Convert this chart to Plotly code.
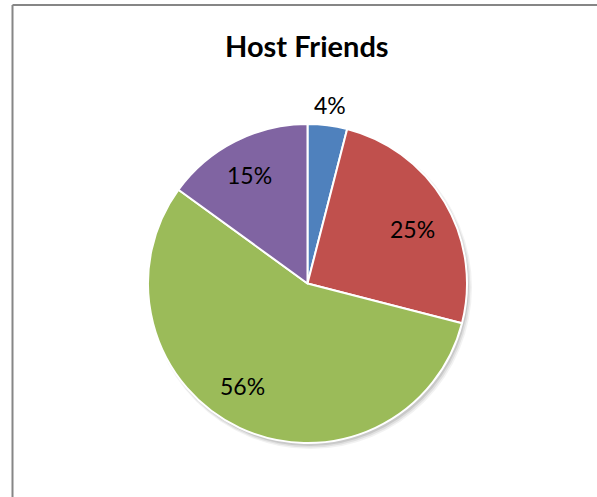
import math
import plotly.graph_objects as go

# Share of host friends by group
groups = ["Group A", "Group B", "Group C", "Group D"]
shares = [4, 25, 56, 15]
colors = ["#4F81BD", "#C0504D", "#9BBB59", "#8064A2"]
title_text = "Host Friends"

# Label placement: radius as a fraction of the pie radius, plus a small angle nudge (deg)
label_radius = [1.13, 0.74, 0.76, 0.77]
label_nudge = [0, 3, 7, -1]

W, H = 597, 497
# Pie geometry in pixels
cx, cy, R = 307.5, 283.5, 159.5


def px_x(x):
    return x / W


def px_y(y):
    return 1 - y / H


def domain(dx=0.0, dy=0.0, dr=0.0):
    r = R + dr
    return dict(
        x=[px_x(cx + dx - r), px_x(cx + dx + r)],
        y=[px_y(cy + dy + r), px_y(cy + dy - r)],
    )


fig = go.Figure()

# Soft drop shadow behind the pie
for dx, dy, dr, a in [(3, 4, 2, 0.05), (2.5, 3.5, 1, 0.07), (2, 3, 0, 0.10)]:
    fig.add_trace(go.Pie(
        values=[1], domain=domain(dx, dy, dr), sort=False,
        marker=dict(colors=[f"rgba(0,0,0,{a})"], line=dict(width=0)),
        textinfo="none", hoverinfo="skip", showlegend=False,
    ))

fig.add_trace(go.Pie(
    labels=groups, values=shares, domain=domain(), sort=False,
    direction="clockwise", rotation=0,
    marker=dict(colors=colors, line=dict(color="white", width=2)),
    textinfo="none", showlegend=False,
))

# Percentage labels placed at each slice's mid-angle
total = sum(shares)
cum = 0
annotations = []
for v, rf, nudge in zip(shares, label_radius, label_nudge):
    mid = (cum + v / 2) / total * 360 + nudge
    cum += v
    rad = math.radians(mid)
    lx = cx + rf * R * math.sin(rad)
    ly = cy - rf * R * math.cos(rad)
    annotations.append(dict(
        x=px_x(lx), y=px_y(ly), xref="paper", yref="paper",
        text=f"{round(v / total * 100)}%", showarrow=False,
        xanchor="center", yanchor="middle",
        font=dict(family="Lato", size=23, color="black"),
    ))

annotations.append(dict(
    x=px_x(307), y=px_y(45), xref="paper", yref="paper",
    text=f"<b>{title_text}</b>", showarrow=False,
    xanchor="center", yanchor="middle",
    font=dict(family="Lato", size=29, color="black"),
))

# Chart frame (left and top edges)
shapes = [
    dict(type="line", xref="paper", yref="paper",
         x0=px_x(12.5), x1=px_x(12.5), y0=px_y(5), y1=0,
         line=dict(color="#868686", width=2)),
    dict(type="line", xref="paper", yref="paper",
         x0=px_x(12.5), x1=1, y0=px_y(5), y1=px_y(5),
         line=dict(color="#868686", width=2)),
]

fig.update_layout(
    width=W, height=H,
    margin=dict(l=0, r=0, t=0, b=0),
    paper_bgcolor="white", plot_bgcolor="white",
    annotations=annotations, shapes=shapes,
)

fig.write_html("out.html")
